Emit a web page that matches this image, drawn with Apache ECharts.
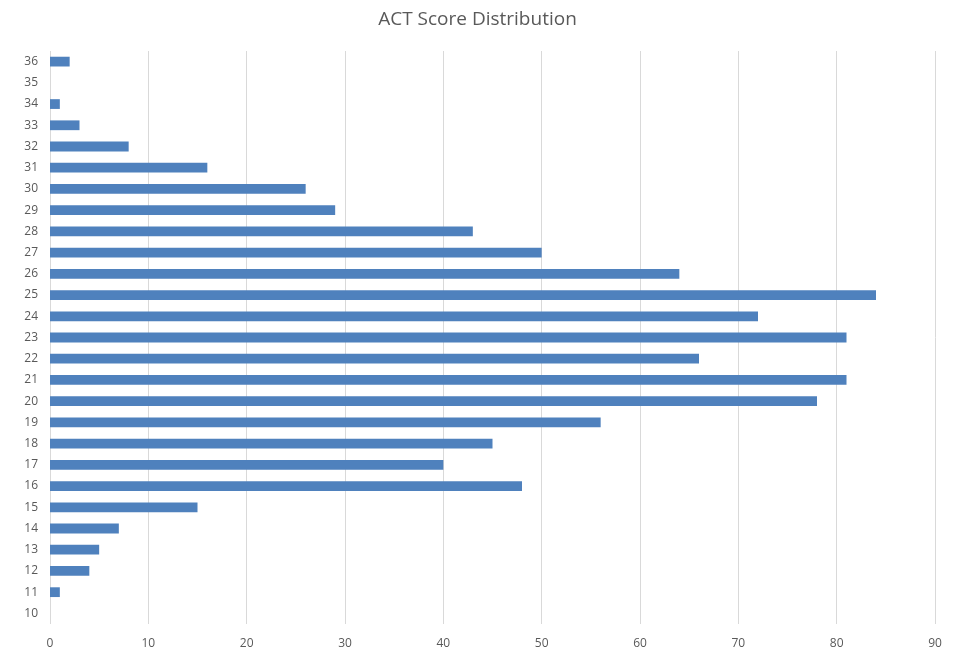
<!DOCTYPE html>
<html>
<head>
<meta charset="utf-8">
<script src="https://cdn.jsdelivr.net/npm/echarts@6/dist/echarts.min.js"></script>
<style>html,body{margin:0;padding:0;background:#fff;}#c{width:955px;height:651px;}</style>
</head>
<body>
<div id="c"></div>
<script>
const scores = ['10','11','12','13','14','15','16','17','18','19','20','21','22','23','24','25','26','27','28','29','30','31','32','33','34','35','36'];
const counts = [0,1,4,5,7,15,48,40,45,56,78,81,66,81,72,84,64,50,43,29,26,16,8,3,1,0,2];
const xTicks = [0,10,20,30,40,50,60,70,80,90];

const chart = echarts.init(document.getElementById('c'));
chart.setOption({
  animation: false,
  title: {
    text: 'ACT Score Distribution',
    left: 'center', top: 5,
    textStyle: {fontFamily: 'Open Sans', fontSize: 19, fontWeight: 'normal', color: '#595959'}
  },
  grid: {left: 50, right: 20, top: 51, bottom: 27, containLabel: false},
  xAxis: {
    type: 'value', min: xTicks[0], max: xTicks[xTicks.length-1], interval: 10,
    axisLine: {show: false}, axisTick: {show: false},
    axisLabel: {color: '#595959', fontFamily: 'Open Sans', fontSize: 12, margin: 14},
    splitLine: {show: true, lineStyle: {color: '#d9d9d9', width: 1}}
  },
  yAxis: {
    type: 'category', data: scores,
    axisLine: {show: false}, axisTick: {show: false},
    axisLabel: {color: '#595959', fontFamily: 'Open Sans', fontSize: 12, margin: 12, interval: 0},
    splitLine: {show: false}
  },
  series: [{
    type: 'bar', data: counts, barWidth: '46%',
    itemStyle: {color: '#4f81bd'}
  }]
});
</script>
</body>
</html>
